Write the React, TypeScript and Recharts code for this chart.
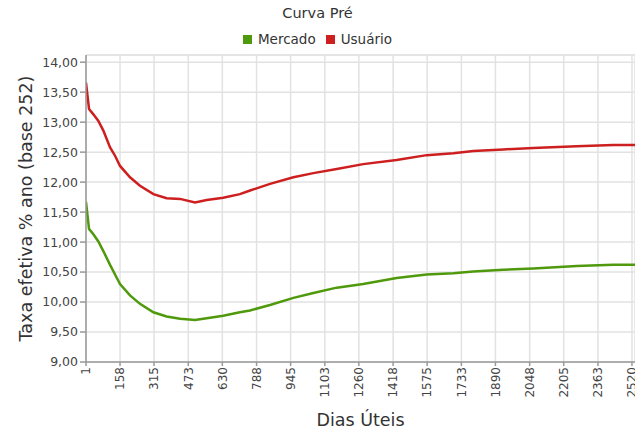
import React from 'react';
import { LineChart, Line, XAxis, YAxis, CartesianGrid, ReferenceLine } from 'recharts';

const dias = [1, 15, 35, 58, 81, 112, 135, 158, 204, 250, 312, 373, 435, 504, 558, 634, 711, 758, 850, 958, 1050, 1158, 1280, 1434, 1573, 1696, 1788, 1926, 2065, 2265, 2434, 2534];
const mercado = [11.67, 11.22, 11.13, 11.01, 10.85, 10.62, 10.46, 10.30, 10.11, 9.97, 9.83, 9.76, 9.72, 9.70, 9.73, 9.77, 9.83, 9.86, 9.95, 10.07, 10.15, 10.24, 10.30, 10.40, 10.46, 10.48, 10.51, 10.54, 10.56, 10.60, 10.62, 10.62];
const usuario = [13.66, 13.22, 13.13, 13.02, 12.86, 12.58, 12.44, 12.27, 12.08, 11.94, 11.80, 11.73, 11.72, 11.66, 11.70, 11.74, 11.80, 11.86, 11.97, 12.08, 12.15, 12.22, 12.30, 12.37, 12.45, 12.48, 12.52, 12.545, 12.57, 12.60, 12.62, 12.62];
const xTicks = [1, 158, 315, 473, 630, 788, 945, 1103, 1260, 1418, 1575, 1733, 1890, 2048, 2205, 2363, 2520];
const yTicks = [9, 9.5, 10, 10.5, 11, 11.5, 12, 12.5, 13, 13.5, 14];

const series = [
  { key: 'Mercado', color: '#4f9a0c' },
  { key: 'Usuário', color: '#cd1f1f' },
];

const data = dias.map((d, i) => ({ dia: d, Mercado: mercado[i], 'Usuário': usuario[i] }));

const FONT = '"DejaVu Sans", sans-serif';
const X_MIN = 1;
const X_MAX = 2534;
const Y_MIN = 9;
const Y_MAX = 14.12;

const XTick = (props: any) => {
  const { x, y, payload } = props;
  return (
    <g transform={`translate(${x},${y})`}>
      <text transform="rotate(-90)" textAnchor="end" dy="0.36em" x={0} fontSize={12} fill="#444" fontFamily={FONT}>
        {payload.value}
      </text>
    </g>
  );
};

export default function App() {
  return (
    <div style={{ position: 'absolute', left: 0, top: 0, width: 635, height: 431, background: '#fff', overflow: 'hidden' }}>
      <div style={{ position: 'absolute', top: 5, left: 0, width: 635, textAlign: 'center', fontFamily: FONT, fontSize: 14.5, color: '#333' }}>
        Curva Pré
      </div>
      <div style={{ position: 'absolute', top: 31, left: 0, width: 635, display: 'flex', justifyContent: 'center', fontFamily: FONT, fontSize: 13.5, color: '#333' }}>
        {series.map((s) => (
          <span key={s.key} style={{ display: 'inline-flex', alignItems: 'center', margin: '0 5px' }}>
            <span style={{ display: 'inline-block', width: 9, height: 9, background: s.color, marginRight: 6 }} />
            {s.key}
          </span>
        ))}
      </div>
      <LineChart width={635} height={431} data={data} margin={{ top: 55, right: 0, bottom: 0, left: 0 }}>
        <CartesianGrid stroke="#e2e2e2" strokeWidth={1.5} />
        <ReferenceLine y={Y_MAX} stroke="#e2e2e2" strokeWidth={1.5} />
        <XAxis
          dataKey="dia"
          type="number"
          domain={[X_MIN, X_MAX]}
          ticks={xTicks}
          allowDataOverflow
          interval={0}
          height={69}
          tickSize={4}
          tickMargin={1}
          stroke="#999"
          strokeWidth={1.5}
          tick={<XTick />}
          label={{ value: 'Dias Úteis', position: 'insideBottom', offset: 5, fontSize: 17.5, fill: '#333', fontFamily: FONT }}
        />
        <YAxis
          type="number"
          domain={[Y_MIN, Y_MAX]}
          ticks={yTicks}
          allowDataOverflow
          interval={0}
          width={86}
          tickSize={6}
          tickMargin={2}
          stroke="#999"
          strokeWidth={1.5}
          tickFormatter={(v: number) => v.toFixed(2).replace('.', ',')}
          tick={{ fontSize: 12.5, fill: '#444', fontFamily: FONT }}
          label={{ value: 'Taxa efetiva % ano (base 252)', angle: -90, position: 'insideLeft', offset: 26, fontSize: 17.5, fill: '#333', fontFamily: FONT, style: { textAnchor: 'middle' } }}
        />
        {series.map((s) => (
          <Line key={s.key} type="linear" dataKey={s.key} stroke={s.color} strokeWidth={2.5} dot={false} isAnimationActive={false} />
        ))}
      </LineChart>
    </div>
  );
}
